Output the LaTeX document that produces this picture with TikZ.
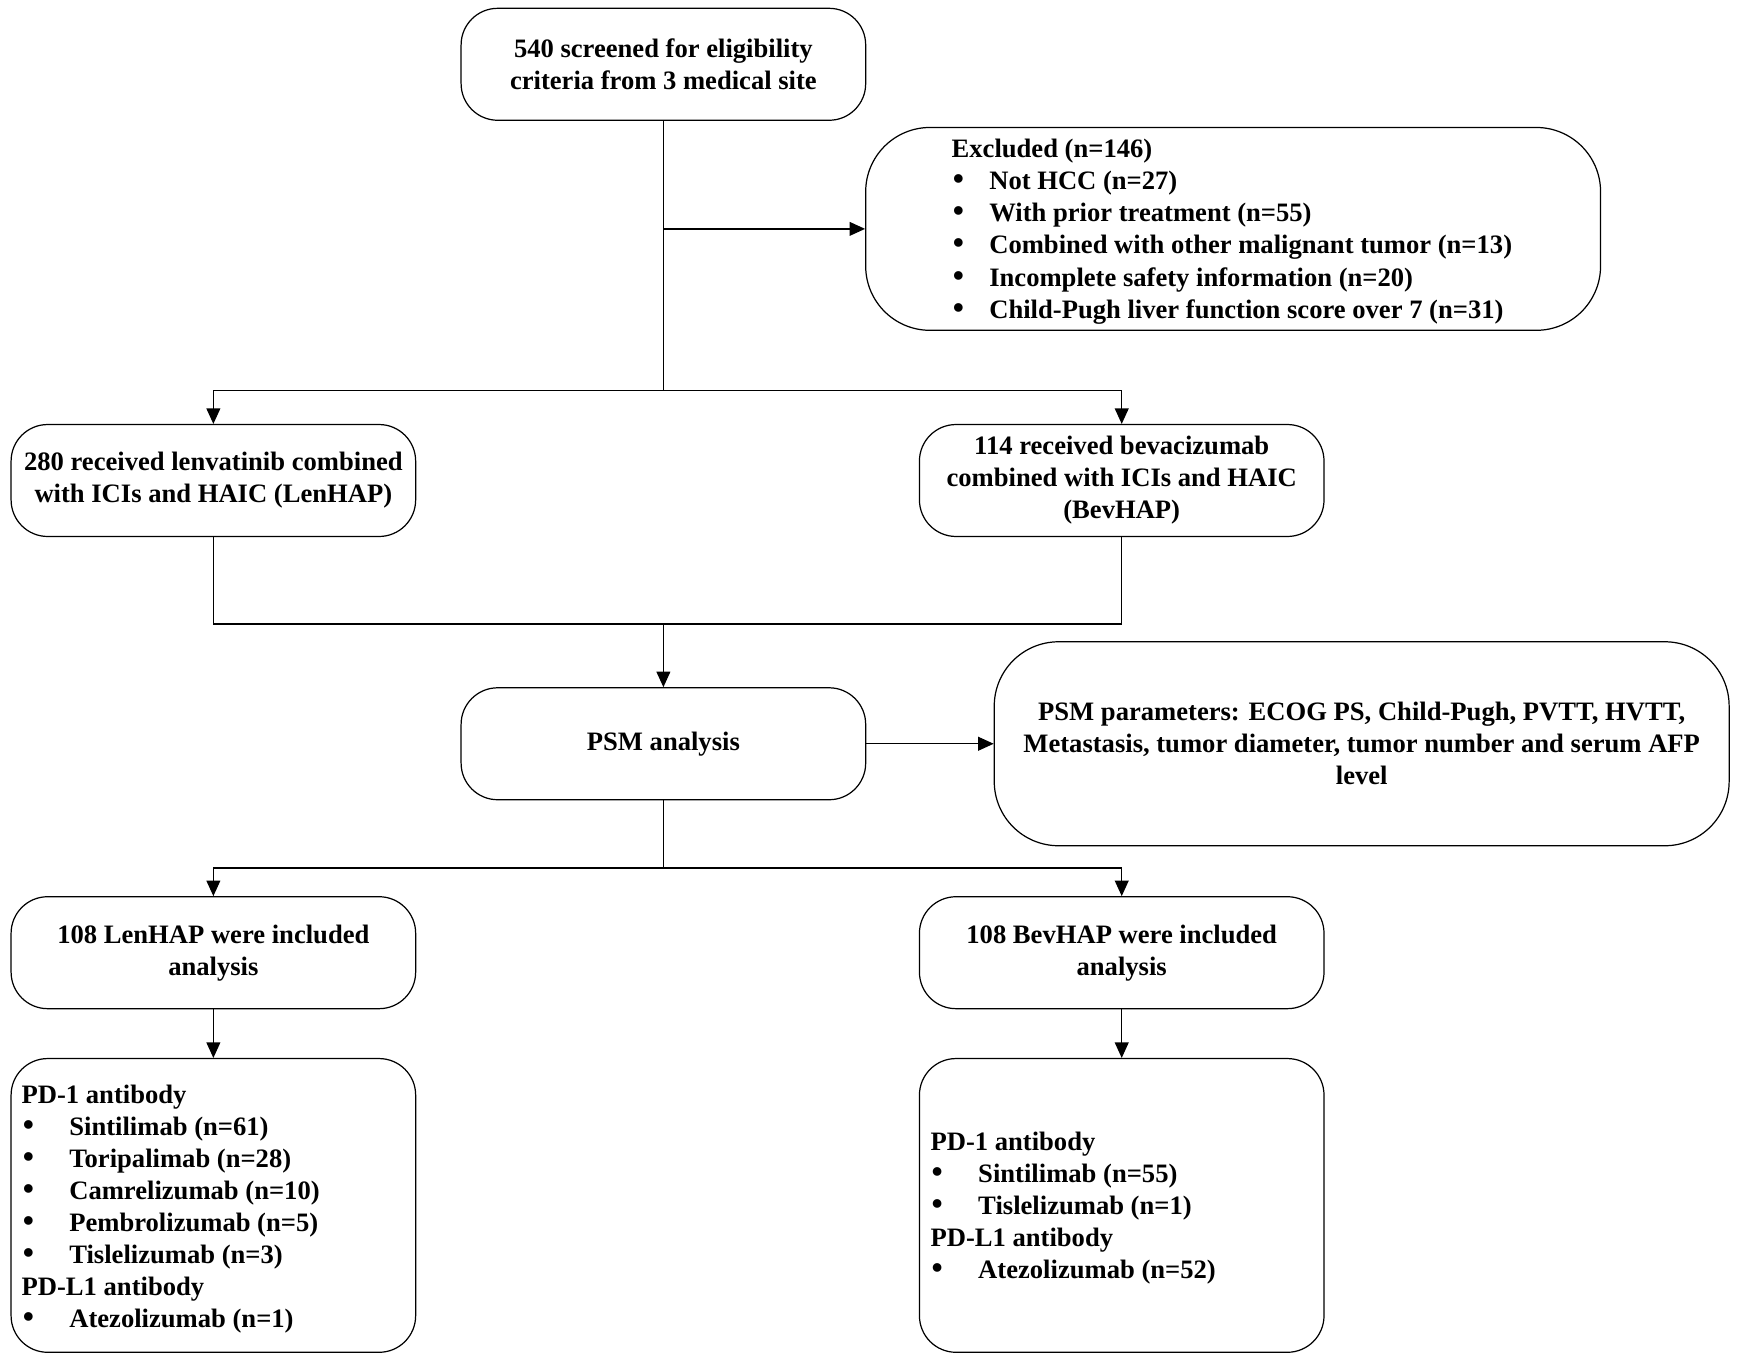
\documentclass[tikz,border=0pt]{standalone}
\usepackage{fontspec}
\setmainfont{Liberation Serif}
\usetikzlibrary{arrows.meta}
\newcommand\mybul[1]{\makebox[#1][l]{\kern1pt\scalebox{1.2}{\textbullet}}}
\begin{document}
\begin{tikzpicture}[x=1pt,y=-1pt,line width=1.1pt,
  fnt/.style={font=\bfseries\fontsize{24}{28.9}\selectfont},
  box/.style={draw,fnt,rounded corners=33pt,fill=white,minimum width=365pt,minimum height=101pt,align=center,inner sep=0pt},
  bigbox/.style={box,rounded corners=58pt,minimum width=663pt},
  txt/.style={fnt,align=left,inner sep=0pt,anchor=west},
  arr/.style={-{Triangle[length=14pt,width=12.5pt]}}]
\useasboundingbox (0,0) rectangle (1568,1228.8);

% boxes
\node[box] (a) at (598.5,58) {540 screened for eligibility\\criteria from 3 medical site};
\node[bigbox,minimum height=183pt] (ex) at (1112.5,206.5) {};
\node[txt] (ext) at (858,209) {Excluded (n=146)\\
\mybul{34pt}Not HCC (n=27)\\
\mybul{34pt}With prior treatment (n=55)\\
\mybul{34pt}Combined with other malignant tumor (n=13)\\
\mybul{34pt}Incomplete safety information (n=20)\\
\mybul{34pt}Child-Pugh liver function score over 7 (n=31)};

\node[box] (b1) at (192.5,433.5) {280 received lenvatinib combined\\with ICIs and HAIC (LenHAP)};
\node[box] (b2) at (1012,433.5) {114 received bevacizumab\\combined with ICIs and HAIC\\(BevHAP)};

\node[box] (psm) at (598.5,671) {PSM analysis};
\node[bigbox,minimum height=184pt] (par) at (1228.5,671) {PSM parameters: ECOG PS, Child-Pugh, PVTT, HVTT,\\Metastasis, tumor diameter, tumor number and serum AFP\\level};

\node[box] (c1) at (192.5,859.5) {108 LenHAP were included\\analysis};
\node[box] (c2) at (1012,859.5) {108 BevHAP were included\\analysis};

\node[box,minimum height=265pt] (d1) at (192.5,1087.5) {};
\node[txt] (d1t) at (19,1091) {PD-1 antibody\\
\mybul{43pt}Sintilimab (n=61)\\
\mybul{43pt}Toripalimab (n=28)\\
\mybul{43pt}Camrelizumab (n=10)\\
\mybul{43pt}Pembrolizumab (n=5)\\
\mybul{43pt}Tislelizumab (n=3)\\
PD-L1 antibody\\
\mybul{43pt}Atezolizumab (n=1)};

\node[box,minimum height=265pt] (d2) at (1012,1087.5) {};
\node[txt] (d2t) at (839,1090) {PD-1 antibody\\
\mybul{43pt}Sintilimab (n=55)\\
\mybul{43pt}Tislelizumab (n=1)\\
PD-L1 antibody\\
\mybul{43pt}Atezolizumab (n=52)};

% connectors
\coordinate (j1) at (598.5,352);
\coordinate (j2) at (598.5,563);
\coordinate (j3) at (598.5,783);
\draw (a.south) -- (j1);
\draw[arr] (a.south |- ex.west) -- (ex.west);
\draw[arr] (j1) -| (b1.north);
\draw[arr] (j1) -| (b2.north);
\draw (b1.south) |- (j2);
\draw (b2.south) |- (j2);
\draw[arr] (j2) -- (psm.north);
\draw[arr] (psm.east) -- (par.west);
\draw (psm.south) -- (j3);
\draw[arr] (j3) -| (c1.north);
\draw[arr] (j3) -| (c2.north);
\draw[arr] (c1.south) -- (d1.north);
\draw[arr] (c2.south) -- (d2.north);
\end{tikzpicture}
\end{document}
